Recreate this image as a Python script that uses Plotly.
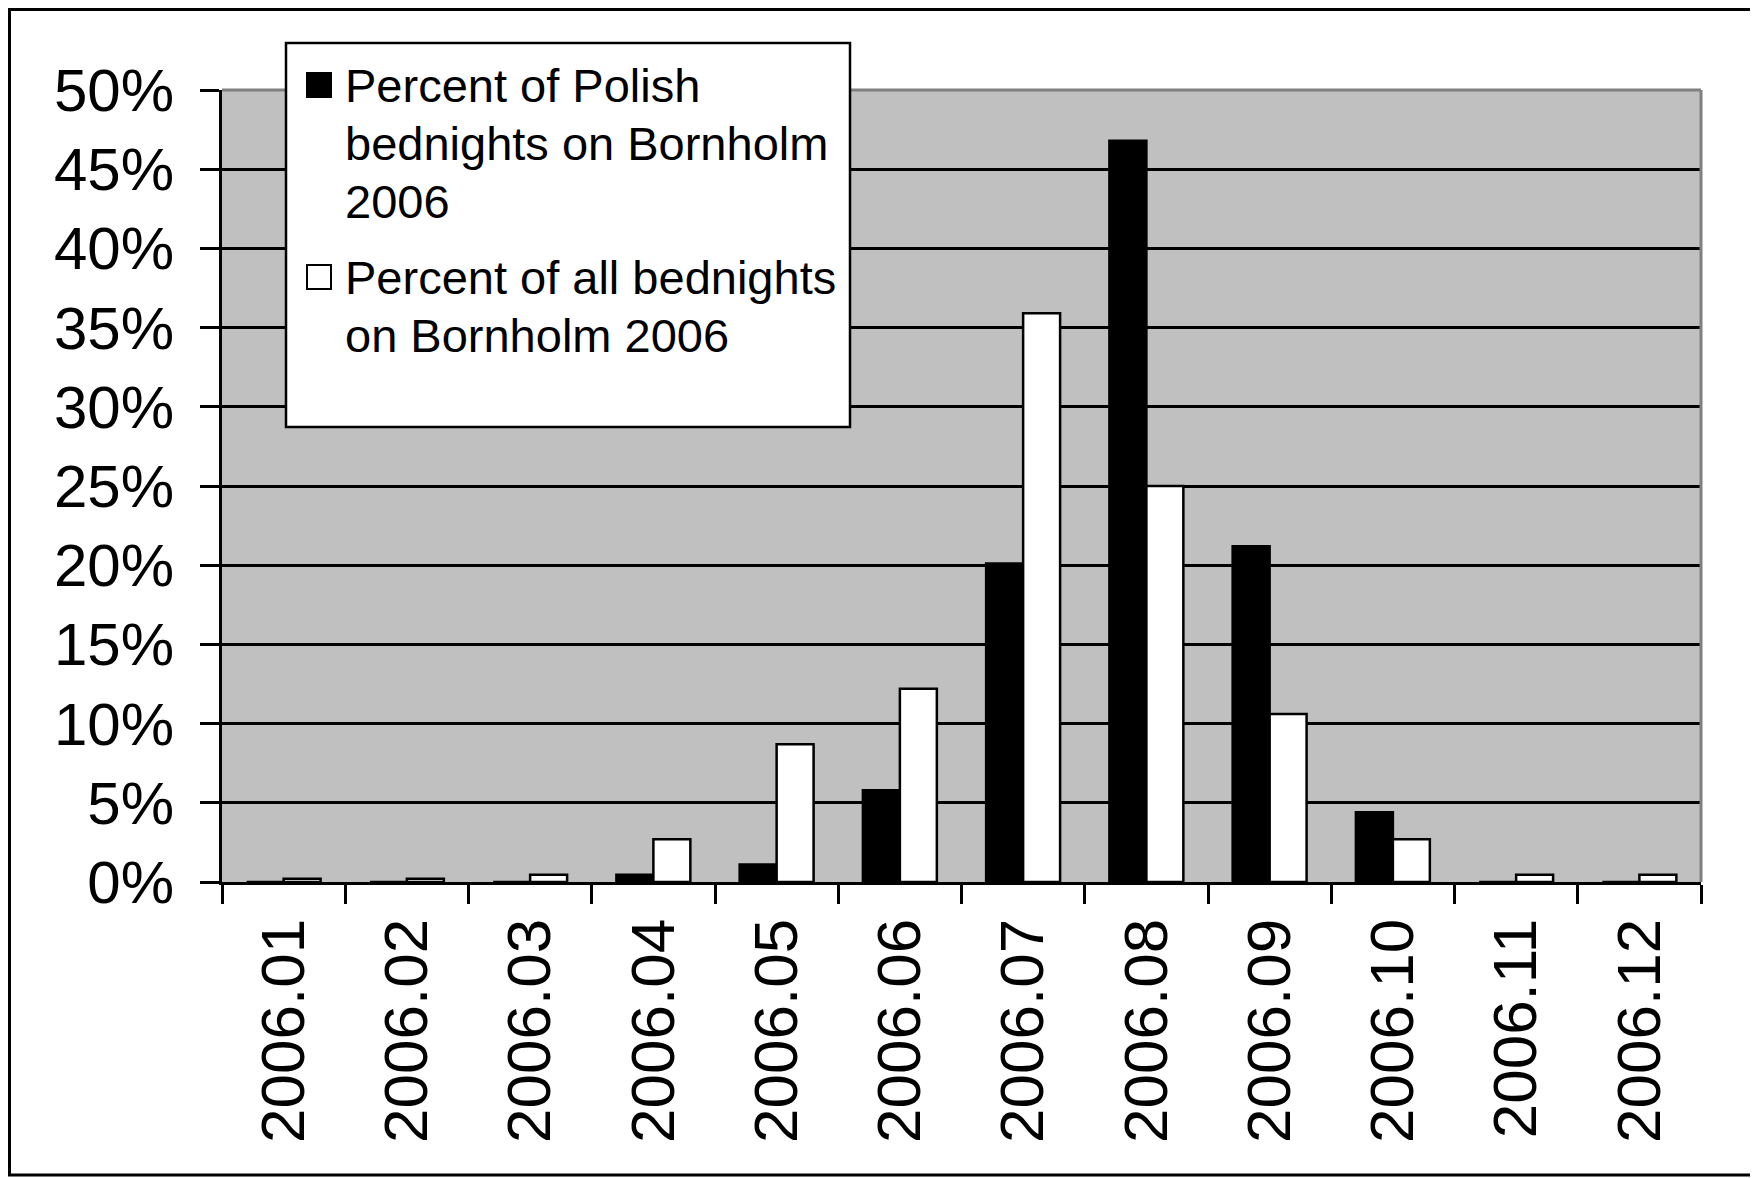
import plotly.graph_objects as go

months = ["2006.01", "2006.02", "2006.03", "2006.04", "2006.05", "2006.06",
          "2006.07", "2006.08", "2006.09", "2006.10", "2006.11", "2006.12"]
polish_pct = [0.0, 0.0, 0.0, 0.45, 1.1, 5.8, 20.1, 46.8, 21.2, 4.4, 0.0, 0.0]
all_pct = [0.2, 0.2, 0.45, 2.7, 8.7, 12.2, 35.9, 25.0, 10.6, 2.7, 0.45, 0.45]
name_polish = ["Percent of Polish", "bednights on Bornholm", "2006"]
name_all = ["Percent of all bednights", "on Bornholm 2006"]

W, H = 1758, 1178
OFF = 8  # page body margin
L, R, T, B = 222 - OFF, 1701 - OFF, 90 - OFF, 882 - OFF
FONT = "Liberation Sans, Arial, sans-serif"

def px(x):
    # x given in screenshot pixels
    return (x - OFF - L) / (R - L)

def py(y):
    return (B - (y - OFF)) / (B - T)

fig = go.Figure()
fig.add_trace(go.Bar(x=months, y=polish_pct, name=" ".join(name_polish),
                     marker=dict(color="black", line=dict(color="black", width=2.5))))
fig.add_trace(go.Bar(x=months, y=all_pct, name=" ".join(name_all),
                     marker=dict(color="white", line=dict(color="black", width=2.5))))

shapes = []
# outer frame
shapes.append(dict(type="rect", xref="paper", yref="paper",
                   x0=px(9.5), x1=px(1756), y0=py(1175), y1=py(9.5),
                   line=dict(color="black", width=3), fillcolor="rgba(0,0,0,0)", layer="above"))
# gray top/right plot border
shapes.append(dict(type="line", xref="paper", yref="paper", x0=0, x1=1, y0=1, y1=1,
                   line=dict(color="#808080", width=3), layer="above"))
shapes.append(dict(type="line", xref="paper", yref="paper", x0=1, x1=1, y0=0, y1=1,
                   line=dict(color="#808080", width=3), layer="above"))
# legend box
shapes.append(dict(type="rect", xref="paper", yref="paper",
                   x0=px(286), x1=px(850), y0=py(427), y1=py(43),
                   line=dict(color="black", width=2.5), fillcolor="white", layer="above"))
# legend symbols
shapes.append(dict(type="rect", xref="paper", yref="paper",
                   x0=px(307), x1=px(331), y0=py(97), y1=py(73),
                   line=dict(color="black", width=2), fillcolor="black", layer="above"))
shapes.append(dict(type="rect", xref="paper", yref="paper",
                   x0=px(307), x1=px(331), y0=py(289), y1=py(265),
                   line=dict(color="black", width=2), fillcolor="white", layer="above"))

annotations = []
line_h = 58
for i, t in enumerate(name_polish):
    annotations.append(dict(xref="paper", yref="paper", x=px(343), y=py(85 + i * line_h),
                            text=t, showarrow=False, xanchor="left", yanchor="middle",
                            font=dict(family=FONT, size=47, color="black")))
for i, t in enumerate(name_all):
    annotations.append(dict(xref="paper", yref="paper", x=px(343), y=py(277 + i * line_h),
                            text=t, showarrow=False, xanchor="left", yanchor="middle",
                            font=dict(family=FONT, size=47, color="black")))

fig.update_layout(
    width=W, height=H,
    margin=dict(l=L, r=W - R, t=T, b=H - B, pad=0),
    paper_bgcolor="white",
    plot_bgcolor="#C0C0C0",
    barmode="group",
    bargap=0.4,
    bargroupgap=0,
    showlegend=False,
    font=dict(family=FONT, color="black"),
    shapes=shapes,
    annotations=annotations,
)
fig.update_xaxes(
    type="category",
    tickangle=-90,
    tickfont=dict(family=FONT, size=62, color="black"),
    showline=True, linecolor="black", linewidth=3,
    ticks="outside", ticklen=19, tickwidth=3, tickcolor="black",
    tickson="boundaries",
    showgrid=False,
    ticklabelstandoff=9,
)
fig.update_yaxes(
    range=[0, 50],
    dtick=5,
    ticksuffix="%",
    tickfont=dict(family=FONT, size=60, color="black"),
    showline=True, linecolor="black", linewidth=3,
    ticks="outside", ticklen=19, tickwidth=3, tickcolor="black",
    showgrid=True, gridcolor="black", gridwidth=2.5,
    zeroline=False,
    ticklabelstandoff=14,
)

fig.write_html("out.html")
